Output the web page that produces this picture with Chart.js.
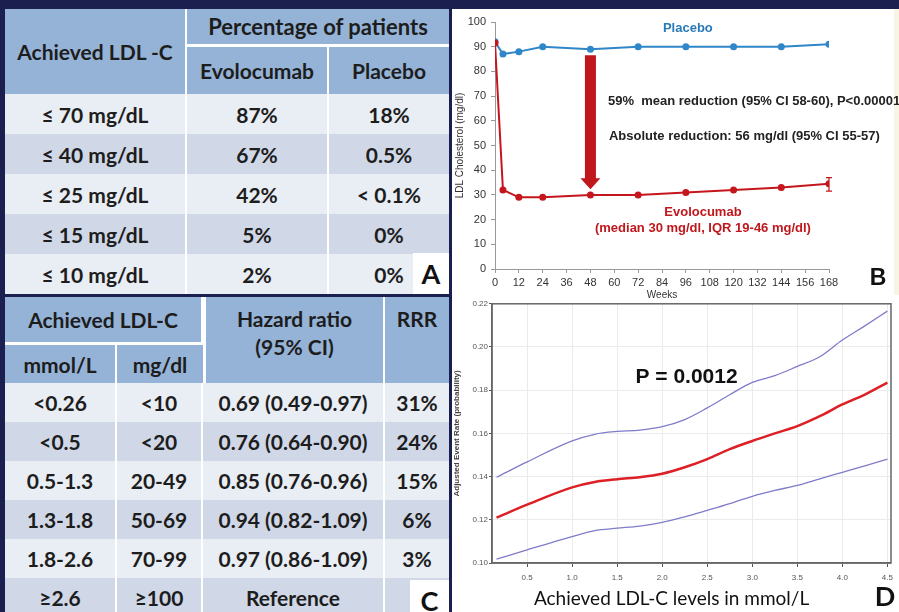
<!DOCTYPE html>
<html>
<head>
<meta charset="utf-8">
<script src="https://cdn.jsdelivr.net/npm/chart.js@4.4.0/dist/chart.umd.min.js"></script>
<style>
body{margin:0;width:899px;height:612px;background:#1b1f4f;overflow:hidden;position:relative;font-family:Lato,sans-serif;}
.tbl{position:absolute;display:grid;color:#1d1d1d;font-weight:700;font-size:21px;}
.tbl div{display:flex;align-items:center;justify-content:center;box-sizing:border-box;text-align:center;}
.hd{background:#95b3d7;}
.lt{background:#e9edf4;}
.dk{background:#d0d8e8;}
.sep{border-right:2px solid #fff;}
.tag{position:absolute;background:#fff;font-size:27px;color:#111;}
#panel{position:absolute;left:452px;top:9px;width:447px;height:603px;background:#fff;}
#edge{position:absolute;left:894px;top:9px;width:5px;height:286px;background:#f8f5e4;}
canvas{position:absolute;}
</style>
</head>
<body>
<div id="panel"></div>
<div id="edge"></div>
<div id="tableA" class="tbl" style="left:5px;top:9px;width:444px;grid-template-columns:182px 142px 120px;grid-template-rows:38px 47px repeat(5,40px);"></div>
<div id="tableC" class="tbl" style="left:5px;top:297px;width:444px;grid-template-columns:112px 86px 182px 64px;grid-template-rows:48px 38px repeat(6,39px);"></div>
<canvas id="chartB" width="447" height="292" style="left:452px;top:9px;"></canvas>
<canvas id="chartD" width="447" height="314" style="left:452px;top:298px;"></canvas>
<script>
// panel A: share of patients reaching each LDL-C level
var ldlTargets = ['≤ 70 mg/dL', '≤ 40 mg/dL', '≤ 25 mg/dL', '≤ 15 mg/dL', '≤ 10 mg/dL'];
var evoShare = ['87%', '67%', '42%', '5%', '2%'];
var placeboShare = ['18%', '0.5%', '< 0.1%', '0%', '0%'];

// panel C: hazard ratios by achieved LDL-C
var ldlMmol = ['<0.26', '<0.5', '0.5-1.3', '1.3-1.8', '1.8-2.6', '≥2.6'];
var ldlMg = ['<10', '<20', '20-49', '50-69', '70-99', '≥100'];
var hazardRatio = ['0.69 (0.49-0.97)', '0.76 (0.64-0.90)', '0.85 (0.76-0.96)', '0.94 (0.82-1.09)', '0.97 (0.86-1.09)', 'Reference'];
var rrr = ['31%', '24%', '15%', '6%', '3%', ''];

// panel B: LDL cholesterol over time (mg/dl)
var weeks = [0, 4, 12, 24, 48, 72, 96, 120, 144, 168];
var placeboLdl = [92, 87, 88, 90, 89, 90, 90, 90, 90, 91];
var evoLdl = [91.5, 32, 29, 29, 30, 30, 31, 32, 33, 34.5];
var evoLastRange = [31.5, 37];

// panel D: adjusted event rate vs achieved LDL-C (mmol/L)
var achievedMmol = [0.16, 0.5, 1.0, 1.25, 1.5, 1.75, 2.0, 2.25, 2.5, 2.75, 3.0, 3.25, 3.5, 3.75, 4.0, 4.25, 4.5];
var eventRate = [0.121, 0.127, 0.135, 0.1375, 0.1388, 0.1397, 0.1413, 0.1443, 0.1481, 0.1527, 0.1565, 0.160, 0.1634, 0.168, 0.1734, 0.178, 0.1835];
var eventUpper = [0.1397, 0.1468, 0.1565, 0.1596, 0.1609, 0.1615, 0.1631, 0.1664, 0.1718, 0.1779, 0.1836, 0.1867, 0.191, 0.1955, 0.2032, 0.2098, 0.2166];
var eventLower = [0.1018, 0.1061, 0.1122, 0.115, 0.1161, 0.1171, 0.1188, 0.1214, 0.1244, 0.1275, 0.1309, 0.1336, 0.1359, 0.139, 0.142, 0.145, 0.1481];

var cell = function(parent, html, cls, css){
  var d = document.createElement('div');
  d.className = cls || '';
  d.innerHTML = html;
  if (css) d.style.cssText = css;
  parent.appendChild(d);
  return d;
}

// table A
var tA = document.getElementById('tableA');
cell(tA, 'Achieved LDL -C', 'hd sep', 'grid-row:1/3;grid-column:1;');
cell(tA, 'Percentage of patients', 'hd', 'grid-row:1;grid-column:2/4;border-bottom:3px solid #fff;font-size:22px;');
cell(tA, 'Evolocumab', 'hd sep', 'grid-row:2;grid-column:2;');
cell(tA, 'Placebo', 'hd', 'grid-row:2;grid-column:3;');
for(var i=0; i < ldlTargets.length; i++){
  var c = i % 2 ? 'dk' : 'lt';
  cell(tA, ldlTargets[i], c + ' sep');
  cell(tA, evoShare[i], c + ' sep');
  cell(tA, placeboShare[i], c);
}
cell(tA, 'A', 'tag', 'right:0;bottom:0;width:36px;height:41px;');

// table C
var tC = document.getElementById('tableC');
cell(tC, 'Achieved LDL-C', 'hd sep', 'grid-row:1;grid-column:1/3;border-bottom:3px solid #fff;');
cell(tC, 'Hazard ratio<br>(95% CI)', 'hd sep', 'grid-row:1/3;grid-column:3;align-items:flex-start;padding-top:8px;line-height:28px;border-left:3px solid #fff;');
cell(tC, 'RRR', 'hd', 'grid-row:1/3;grid-column:4;align-items:flex-start;padding-top:9px;');
cell(tC, 'mmol/L', 'hd sep', 'grid-row:2;grid-column:1;');
cell(tC, 'mg/dl', 'hd', 'grid-row:2;grid-column:2;');
for(var i=0; i < ldlMmol.length; i++){
  var c = i % 2 ? 'dk' : 'lt';
  cell(tC, ldlMmol[i], c + ' sep');
  cell(tC, ldlMg[i], c + ' sep');
  cell(tC, hazardRatio[i], c + ' sep');
  cell(tC, rrr[i], c);
}
cell(tC, 'C', 'tag', 'left:405px;top:283px;width:39px;height:40px;');

var pts = function(xs, ys){
  return xs.map(function(x, i){ return {x: x, y: ys[i]}; });
}

var tickFontB = {family: 'Liberation Sans', size: 11};

// annotations for panel B: arrow, error bar and texts
var annotB = {
  id: 'annotB',
  afterDatasetsDraw: function(chart){
    var ctx = chart.ctx, xs = chart.scales.x, ys = chart.scales.y;
    ctx.save();
    // error bar on last evolocumab point
    var ex = xs.getPixelForValue(weeks[weeks.length - 1]);
    var e1 = ys.getPixelForValue(evoLastRange[0]), e2 = ys.getPixelForValue(evoLastRange[1]);
    ctx.strokeStyle = '#c4161c';
    ctx.lineWidth = 1.2;
    ctx.beginPath();
    ctx.moveTo(ex, e1); ctx.lineTo(ex, e2);
    ctx.moveTo(ex - 3, e1); ctx.lineTo(ex + 3, e1);
    ctx.moveTo(ex - 3, e2); ctx.lineTo(ex + 3, e2);
    ctx.stroke();
    // reduction arrow at week 48
    var ax = xs.getPixelForValue(weeks[4]);
    var top = ys.getPixelForValue(placeboLdl[4] - 2.5);
    var tip = ys.getPixelForValue(evoLdl[4] + 2.3);
    ctx.fillStyle = '#c0171d';
    ctx.beginPath();
    ctx.moveTo(ax - 5.5, top); ctx.lineTo(ax + 5.5, top);
    ctx.lineTo(ax + 5.5, tip - 11); ctx.lineTo(ax + 10, tip - 11);
    ctx.lineTo(ax, tip); ctx.lineTo(ax - 10, tip - 11);
    ctx.lineTo(ax - 5.5, tip - 11);
    ctx.closePath();
    ctx.fill();
    // texts
    ctx.textBaseline = 'middle';
    ctx.textAlign = 'center';
    ctx.font = 'bold 13px Liberation Sans';
    ctx.fillStyle = '#2a7ab8';
    ctx.fillText('Placebo', xs.getPixelForValue(97), ys.getPixelForValue(97.2));
    ctx.fillStyle = '#c0171d';
    ctx.fillText('Evolocumab', xs.getPixelForValue(104.6), ys.getPixelForValue(23.1));
    ctx.fillText('(median 30 mg/dl, IQR 19-46 mg/dl)', xs.getPixelForValue(104.6), ys.getPixelForValue(16.6));
    ctx.textAlign = 'left';
    ctx.fillStyle = '#222';
    ctx.font = 'bold 13px Liberation Sans';
    ctx.fillText('59%  mean reduction (95% CI 58-60), P<0.00001', xs.getPixelForValue(56.8), ys.getPixelForValue(68));
    ctx.fillText('Absolute reduction: 56 mg/dl (95% CI 55-57)', xs.getPixelForValue(57.3), ys.getPixelForValue(53.8));
    ctx.textAlign = 'center';
    ctx.fillStyle = '#111';
    ctx.font = 'bold 23px Liberation Sans';
    ctx.fillText('B', chart.width - 21, 270);
    ctx.restore();
  }
};

new Chart(document.getElementById('chartB'), {
  type: 'line',
  data: {
    datasets: [{
      label: 'Evolocumab',
      data: pts(weeks, evoLdl),
      borderColor: '#c4161c',
      backgroundColor: '#c4161c',
      borderWidth: 2,
      pointRadius: 3.5,
      pointBorderWidth: 0
    }, {
      label: 'Placebo',
      data: pts(weeks, placeboLdl),
      borderColor: '#2f86c8',
      backgroundColor: '#2f86c8',
      borderWidth: 2,
      pointRadius: 3.5,
      pointBorderWidth: 0
    }]
  },
  options: {
    responsive: false,
    animation: false,
    devicePixelRatio: 1,
    layout: {padding: {top: 13, right: 70, left: 0, bottom: 0}},
    plugins: {legend: {display: false}, tooltip: {enabled: false}},
    scales: {
      x: {
        type: 'linear', min: 0, max: 168,
        ticks: {stepSize: 12, font: tickFontB, color: '#333', padding: 3, maxRotation: 0, autoSkip: false},
        grid: {drawOnChartArea: false, tickLength: 4, color: '#999'},
        border: {color: '#999'},
        title: {display: true, text: 'Weeks', font: {family: 'Liberation Sans', size: 10}, color: '#333', padding: 0},
        afterFit: function(s){ s.height = 32; }
      },
      y: {
        min: 0, max: 100,
        ticks: {stepSize: 10, font: tickFontB, color: '#333', padding: 5},
        grid: {drawOnChartArea: false, tickLength: 4, color: '#999'},
        border: {color: '#999'},
        title: {display: true, text: 'LDL Cholesterol (mg/dl)', font: {family: 'Liberation Sans', size: 10}, color: '#333', padding: 2},
        afterFit: function(s){ s.width = 43; }
      }
    }
  },
  plugins: [annotB]
});

// annotations for panel D
var annotD = {
  id: 'annotD',
  afterDraw: function(chart){
    var ctx = chart.ctx, a = chart.chartArea, xs = chart.scales.x, ys = chart.scales.y;
    ctx.save();
    ctx.strokeStyle = '#666';
    ctx.lineWidth = 1.5;
    ctx.strokeRect(a.left, a.top, a.right - a.left, a.bottom - a.top);
    ctx.textAlign = 'center';
    ctx.textBaseline = 'middle';
    ctx.fillStyle = '#111';
    ctx.font = 'bold 21px Liberation Sans';
    ctx.fillText('P = 0.0012', xs.getPixelForValue(2.27), ys.getPixelForValue(0.186));
    ctx.font = '19px Lato';
    ctx.fillStyle = '#111';
    ctx.fillText('Achieved LDL-C levels in mmol/L', a.left + (a.right - a.left) * 0.45, chart.height - 13);
    ctx.font = 'bold 27px Lato';
    ctx.fillText('D', chart.width - 14, chart.height - 15);
    ctx.restore();
  }
};

var tickFontD = {family: 'Liberation Sans', size: 8};

new Chart(document.getElementById('chartD'), {
  type: 'line',
  data: {
    datasets: [{
      label: 'Rate',
      data: pts(achievedMmol, eventRate),
      borderColor: '#dd1f26',
      borderWidth: 2.5,
      pointRadius: 0,
      cubicInterpolationMode: 'monotone'
    }, {
      label: 'Upper',
      data: pts(achievedMmol, eventUpper),
      borderColor: '#7f7cca',
      borderWidth: 1.3,
      pointRadius: 0,
      cubicInterpolationMode: 'monotone'
    }, {
      label: 'Lower',
      data: pts(achievedMmol, eventLower),
      borderColor: '#7f7cca',
      borderWidth: 1.3,
      pointRadius: 0,
      cubicInterpolationMode: 'monotone'
    }]
  },
  options: {
    responsive: false,
    animation: false,
    devicePixelRatio: 1,
    layout: {padding: {top: 4, right: 6, left: 0, bottom: 0}},
    plugins: {legend: {display: false}, tooltip: {enabled: false}},
    scales: {
      x: {
        type: 'linear', min: 0.11, max: 4.54,
        afterBuildTicks: function(s){
          s.ticks = [0.5, 1, 1.5, 2, 2.5, 3, 3.5, 4, 4.5].map(function(v){ return {value: v}; });
        },
        ticks: {callback: function(v){ return v.toFixed(1); }, font: tickFontD, color: '#555', padding: 6, autoSkip: false, maxRotation: 0},
        grid: {color: '#ebebeb', tickColor: '#555', tickLength: 4},
        border: {color: '#666', width: 1.5},
        afterFit: function(s){ s.height = 49; }
      },
      y: {
        min: 0.1, max: 0.22,
        afterBuildTicks: function(s){
          s.ticks = [0.10, 0.12, 0.14, 0.16, 0.18, 0.20, 0.22].map(function(v){ return {value: v}; });
        },
        ticks: {callback: function(v){ return v.toFixed(2); }, font: tickFontD, color: '#555', padding: 1},
        grid: {color: '#ebebeb', tickColor: '#555', tickLength: 3},
        border: {color: '#666', width: 1.5},
        title: {display: true, text: 'Adjusted Event Rate (probability)', font: {family: 'Liberation Sans', size: 8, weight: 'bold'}, color: '#444', padding: 0},
        afterFit: function(s){ s.width = 40; }
      }
    }
  },
  plugins: [annotD]
});
</script>
</body>
</html>
